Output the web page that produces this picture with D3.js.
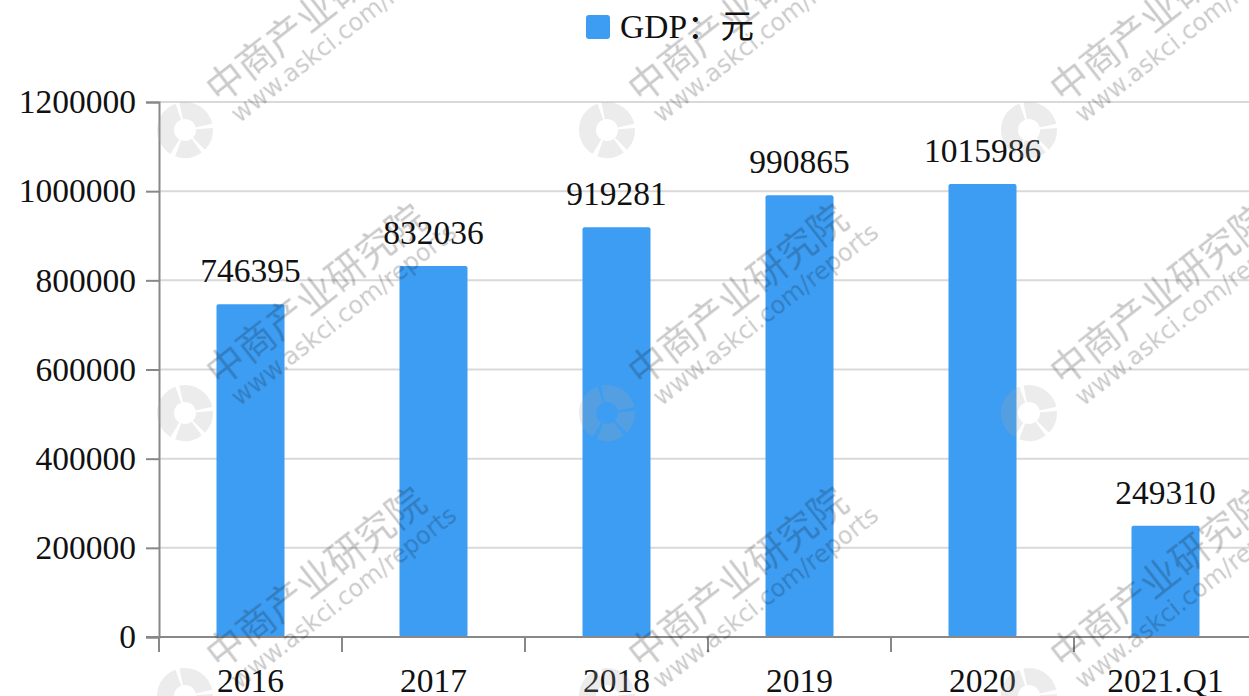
<!DOCTYPE html>
<html>
<head>
<meta charset="utf-8">
<script src="https://cdn.jsdelivr.net/npm/d3@7"></script>
<style>
    body { margin: 0; background: #fff; }
    svg text { font-family: "Liberation Serif", "DejaVu Serif", "Noto Sans CJK SC", serif; fill: #111; }
</style>
</head>
<body>
<div id="chart"></div>
<script>
// data
let categories = ["2016", "2017", "2018", "2019", "2020", "2021.Q1"];
let gdpValues = [746395, 832036, 919281, 990865, 1015986, 249310];
let yTicks = [0, 200000, 400000, 600000, 800000, 1000000, 1200000];
let legendLabel = "GDP：元";

let width = 1249, height = 696;
let margin = {top: 102, left: 159, bottom: 59};
let barColor = "#3d9df3";
let fontSize = "33.5px";

let svg = d3.select("#chart").append("svg")
    .attr("width", width)
    .attr("height", height);

// scales
let x = d3.scaleBand()
    .domain(categories)
    .range([margin.left, margin.left + 183 * categories.length])
    .padding(0);

let y = d3.scaleLinear()
    .domain([0, 1200000])
    .range([height - margin.bottom, margin.top]);

// grid lines
svg.append("g")
    .selectAll("line")
    .data(yTicks.filter(d => d > 0))
    .enter().append("line")
    .attr("x1", margin.left)
    .attr("x2", width)
    .attr("y1", d => y(d))
    .attr("y2", d => y(d))
    .attr("stroke", "#d9d9d9")
    .attr("stroke-width", 2);

// bars
let barW = 68;
let barData = categories.map((c, i) => ({cat: c, value: gdpValues[i]}));

svg.append("g")
    .selectAll("rect")
    .data(barData)
    .enter().append("rect")
    .attr("x", d => x(d.cat) + x.bandwidth() / 2 - barW / 2)
    .attr("y", d => y(d.value))
    .attr("width", barW)
    .attr("height", d => y(0) - y(d.value))
    .attr("rx", 2)
    .attr("fill", barColor);

// value labels
svg.append("g")
    .selectAll("text")
    .data(barData)
    .enter().append("text")
    .attr("x", d => x(d.cat) + x.bandwidth() / 2)
    .attr("y", d => y(d.value) - 22)
    .attr("text-anchor", "middle")
    .style("font-size", fontSize)
    .text(d => d.value);

// y axis
let yAxis = d3.axisLeft(y)
    .tickValues(yTicks)
    .tickSize(13)
    .tickPadding(10)
    .tickFormat(d => d);

let yAxisGroup = svg.append("g")
    .attr("class", "y-axis axis")
    .attr("transform", `translate(${margin.left},0)`)
    .call(yAxis);

yAxisGroup.select(".domain").attr("stroke", "#888").attr("stroke-width", 2);
yAxisGroup.selectAll(".tick line").attr("stroke", "#888").attr("stroke-width", 2);
yAxisGroup.selectAll(".tick text")
    .style("font-size", fontSize)
    .attr("fill", "#111");

// x axis
let xAxis = d3.axisBottom(x)
    .tickSize(0)
    .tickPadding(31);

let xAxisGroup = svg.append("g")
    .attr("class", "x-axis axis")
    .attr("transform", `translate(0,${y(0)})`)
    .call(xAxis);

xAxisGroup.select(".domain").remove();
xAxisGroup.append("line")
    .attr("x1", margin.left - 13)
    .attr("x2", width)
    .attr("stroke", "#888")
    .attr("stroke-width", 2);
xAxisGroup.selectAll(".sep")
    .data(categories.map(c => x(c)))
    .enter().append("line")
    .attr("class", "sep")
    .attr("x1", d => d)
    .attr("x2", d => d)
    .attr("y1", 0)
    .attr("y2", 15)
    .attr("stroke", "#888")
    .attr("stroke-width", 2);
xAxisGroup.selectAll(".tick text")
    .style("font-size", fontSize)
    .attr("fill", "#111");

// legend
let legend = svg.append("g").attr("transform", "translate(586,15)");
legend.append("rect")
    .attr("width", 24)
    .attr("height", 24)
    .attr("rx", 3)
    .attr("fill", barColor);
legend.append("text")
    .attr("x", 34)
    .attr("y", 23)
    .style("font-size", fontSize)
    .text(legendLabel);

// watermark
let marks = [];
[185, 607, 1029].forEach(mx => {
    [130, 413, 696].forEach(my => marks.push([mx, my]));
});

let wm = svg.append("g")
    .style("pointer-events", "none")
    .attr("opacity", 0.22);

let arc = d3.arc().innerRadius(11).outerRadius(28);
let wmArcs = [[-2.6, -0.35], [-0.2, 1.35], [1.5, 2.35], [2.5, 3.5]];

marks.forEach(([mx, my]) => {
    let g = wm.append("g").attr("transform", `translate(${mx},${my})`);
    g.selectAll("path")
        .data(wmArcs)
        .enter().append("path")
        .attr("d", d => arc({startAngle: d[0], endAngle: d[1]}))
        .attr("fill", "#aaa");
    let t = g.append("g").attr("transform", "translate(34,-26) rotate(-38)");
    t.append("text")
        .style("font-family", "'Noto Sans CJK SC', sans-serif")
        .style("font-size", "38px")
        .attr("fill", "#aaa")
        .text("中商产业研究院");
    t.append("text")
        .attr("x", 4)
        .attr("y", 28)
        .style("font-family", "'DejaVu Sans', sans-serif")
        .style("font-size", "24px")
        .attr("fill", "#aaa")
        .text("www.askci.com/reports");
});
</script>
</body>
</html>
